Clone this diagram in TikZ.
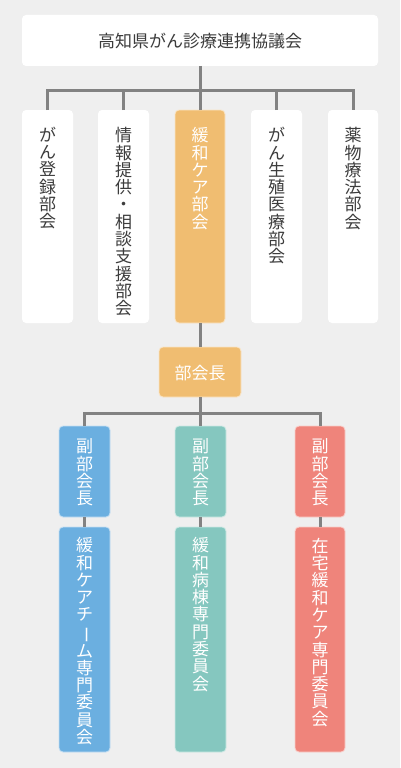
\documentclass[tikz,border=0pt]{standalone}
\usepackage{fontspec}
\newfontfamily\jp{Noto Sans CJK JP}
\definecolor{bgc}{RGB}{239,239,239}
\definecolor{linec}{RGB}{130,130,130}
\definecolor{txtc}{RGB}{60,60,60}
\definecolor{orangec}{RGB}{240,189,113}
\definecolor{bluec}{RGB}{107,175,224}
\definecolor{tealc}{RGB}{133,199,191}
\definecolor{redc}{RGB}{239,132,123}
\newcommand{\vbar}{\rotatebox[origin=c]{-90}{ー}}
\newcommand{\fs}{\rule{0pt}{15pt}}
\begin{document}
\begin{tikzpicture}[x=1pt,y=-1pt,
  boxw/.style={fill=white,draw=none,rounded corners=4pt},
  boxc/.style={fill=#1,draw=white!60!#1,line width=0.8pt,rounded corners=4pt},
  vtxt/.style={anchor=north,inner sep=0pt,align=center,font=\jp\fontsize{17}{17.3}\selectfont,text=#1},
  conn/.style={draw=linec,line width=3pt},
]
\fill[bgc] (0,0) rectangle (400,768);
\useasboundingbox (0,0) rectangle (400,768);

% top box
\draw[boxw] (22,15) rectangle (378,66);
\node[font=\jp\fontsize{17}{20}\selectfont,text=txtc,inner sep=0pt] (top) at (200,41) {高知県がん診療連携協議会};
\coordinate (topb) at (200,66);
\coordinate (j1) at (200,90);

% second row boxes
\draw[boxw] (22,110) rectangle (73,323);
\draw[boxw] (98,110) rectangle (149,323);
\draw[boxc=orangec] (175,110) rectangle (225,323);
\draw[boxw] (251,110) rectangle (302,323);
\draw[boxw] (328,110) rectangle (378,323);

\coordinate (b1) at (47.5,110);
\coordinate (b2) at (123.5,110);
\coordinate (b3) at (200,110);
\coordinate (b4) at (276.5,110);
\coordinate (b5) at (353,110);
\coordinate (b3b) at (200,323);

\node[vtxt=txtc] (n1) at (47.5,126) {\fs が\\ん\\登\\録\\部\\会};
\node[vtxt=txtc] (n2) at (123.5,126.5) {\fs 情\\報\\提\\供\\・\\相\\談\\支\\援\\部\\会};
\node[vtxt=white] (n3) at (200,126.5) {\fs 緩\\和\\ケ\\ア\\部\\会};
\node[vtxt=txtc] (n4) at (276.5,126.5) {\fs が\\ん\\生\\殖\\医\\療\\部\\会};
\node[vtxt=txtc] (n5) at (353,126.5) {\fs 薬\\物\\療\\法\\部\\会};

\draw[conn] (topb) -- (j1);
\draw[conn] (b1) |- (j1) -| (b5);
\draw[conn] (b2) -- ++(0,-20);
\draw[conn] (b3) -- (j1);
\draw[conn] (b4) -- ++(0,-20);

% 部会長
\draw[boxc=orangec] (159,347) rectangle (241,397);
\node[font=\jp\fontsize{17}{20}\selectfont,text=white,inner sep=0pt] (chief) at (200,373) {部会長};
\coordinate (ct) at (200,347);
\coordinate (cb) at (200,397);
\coordinate (j2) at (200,413);
\draw[conn] (b3b) -- (ct);

% vice chair boxes
\draw[boxc=bluec] (59,426) rectangle (110,517);
\draw[boxc=tealc] (175,426) rectangle (226,517);
\draw[boxc=redc] (295,426) rectangle (345,517);
\coordinate (v1) at (84.5,426);
\coordinate (v2) at (200.5,426);
\coordinate (v3) at (320,426);
\draw[conn] (cb) -- (j2);
\draw[conn] (v1) |- (j2) -| (v3);
\draw[conn] (v2) -- (200.5,413);

\node[vtxt=white] (vc1) at (84.5,437.5) {\fs 副\\部\\会\\長};
\node[vtxt=white] (vc2) at (200.5,437.5) {\fs 副\\部\\会\\長};
\node[vtxt=white] (vc3) at (320,437.5) {\fs 副\\部\\会\\長};

% committees
\draw[boxc=bluec] (59,527) rectangle (110,752);
\draw[boxc=tealc] (175,527) rectangle (226,752);
\draw[boxc=redc] (295,527) rectangle (345,752);
\draw[conn] (84.5,517) -- (84.5,527);
\draw[conn] (200.5,517) -- (200.5,527);
\draw[conn] (320,517) -- (320,527);

\node[vtxt=white] (c1) at (84.5,536.5) {\fs 緩\\和\\ケ\\ア\\チ\\\vbar\\ム\\専\\門\\委\\員\\会};
\node[vtxt=white] (c2) at (200.5,536.5) {\fs 緩\\和\\病\\棟\\専\\門\\委\\員\\会};
\node[vtxt=white] (c3) at (320,537) {\fs 在\\宅\\緩\\和\\ケ\\ア\\専\\門\\委\\員\\会};
\end{tikzpicture}
\end{document}
